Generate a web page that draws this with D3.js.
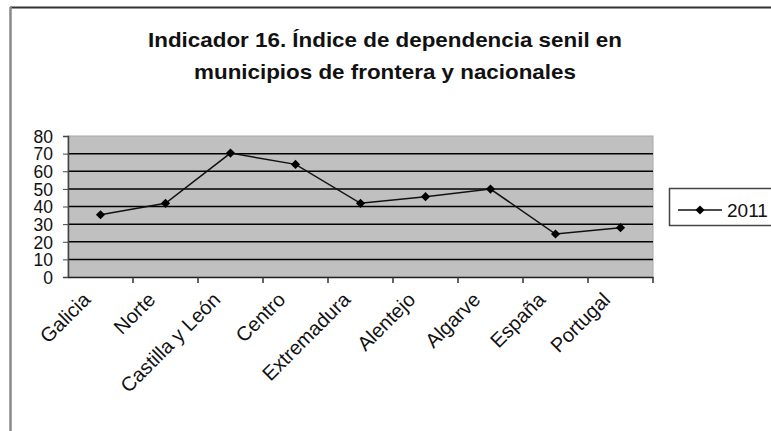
<!DOCTYPE html>
<html><head><meta charset="utf-8">
<script src="https://cdn.jsdelivr.net/npm/d3@7"></script>
<style>
html,body{margin:0;padding:0;background:#fff;}
svg{display:block;font-family:"Liberation Sans",Arial,sans-serif;}
</style></head>
<body><svg id="c" width="771" height="431"></svg>
<script>
const categories = ["Galicia","Norte","Castilla y León","Centro","Extremadura","Alentejo","Algarve","España","Portugal"];
const values2011 = [35.3, 41.8, 70.3, 63.9, 41.8, 45.6, 49.9, 24.4, 28.0];
const yTicks = [0,10,20,30,40,50,60,70,80];
const seriesName = "2011";
const titleLines = ["Indicador 16. Índice de dependencia senil en","municipios de frontera y nacionales"];

const svg = d3.select("#c");
const m = {left:68, right:653, top:136, bottom:277};

// outer frame
svg.append("line").attr("x1",10).attr("x2",771).attr("y1",7.5).attr("y2",7.5).attr("stroke","#333").attr("stroke-width",2);
svg.append("line").attr("x1",10.5).attr("x2",10.5).attr("y1",7).attr("y2",431).attr("stroke","#888").attr("stroke-width",2.5);

// title
svg.append("g").attr("transform","translate(385,0) scale(1.12,1)")
  .selectAll("text").data(titleLines).join("text")
  .attr("x",0).attr("y",(d,i)=>47+i*32).attr("text-anchor","middle")
  .attr("font-weight","bold").attr("font-size",20).attr("fill","#111").text(d=>d);

const x = d3.scaleBand().domain(categories).range([m.left,m.right]);
const y = d3.scaleLinear().domain([0,80]).range([m.bottom,m.top]);

// plot background
svg.append("rect").attr("x",m.left).attr("y",m.top).attr("width",m.right-m.left).attr("height",m.bottom-m.top)
  .attr("fill","#c0c0c0").attr("stroke","#a8a8a8").attr("stroke-width",1);

// gridlines
svg.append("g").selectAll("line").data(yTicks.filter(t=>t>0&&t<80)).join("line")
  .attr("x1",m.left).attr("x2",m.right).attr("y1",d=>y(d)).attr("y2",d=>y(d))
  .attr("stroke","#000").attr("stroke-width",1.5);

// y axis
const yAxis = svg.append("g").attr("transform",`translate(${m.left},0)`)
  .call(d3.axisLeft(y).tickValues(yTicks).tickSize(5).tickPadding(10));
yAxis.select(".domain").attr("stroke","#444").attr("stroke-width",1.5);
yAxis.selectAll(".tick line").attr("stroke","#444");
yAxis.selectAll("text").attr("font-size",17.5).attr("fill","#111")
  .attr("font-family","Liberation Sans, Arial, sans-serif").attr("dy","0.36em");

// x axis
const xAxis = svg.append("g").attr("transform",`translate(0,${m.bottom})`)
  .call(d3.axisBottom(x).tickSize(0).tickFormat(""));
xAxis.select(".domain").attr("stroke","#222").attr("stroke-width",1.5);
const tickPos = categories.map(c=>x(c)).concat([m.right]);
svg.append("g").selectAll("line").data(tickPos.slice(1)).join("line")
  .attr("x1",d=>d).attr("x2",d=>d).attr("y1",m.bottom).attr("y2",m.bottom+6)
  .attr("stroke","#333").attr("stroke-width",1.5);
svg.append("g").selectAll("text").data(categories).join("text")
  .attr("transform",d=>`translate(${x(d)+x.bandwidth()/2-9},${m.bottom+24}) rotate(-45)`)
  .attr("text-anchor","end").attr("font-size",20).attr("fill","#111").text(d=>d);

// line + markers
const cx = d=>x(d)+x.bandwidth()/2;
svg.append("path").datum(categories)
  .attr("d",d3.line().x(cx).y((d,i)=>y(values2011[i])))
  .attr("fill","none").attr("stroke","#111").attr("stroke-width",1.5);
const diamond = d3.symbol().type(d3.symbolSquare).size(42);
svg.append("g").selectAll("path").data(categories).join("path")
  .attr("d",diamond).attr("transform",(d,i)=>`translate(${cx(d)},${y(values2011[i])}) rotate(45)`).attr("fill","#000");

// legend
const lg = svg.append("g");
lg.append("rect").attr("x",669.5).attr("y",188.5).attr("width",120).attr("height",37)
  .attr("fill","#fff").attr("stroke","#444").attr("stroke-width",1.5);
lg.append("line").attr("x1",678).attr("x2",722).attr("y1",210).attr("y2",210).attr("stroke","#111").attr("stroke-width",1.5);
lg.append("path").attr("d",diamond).attr("transform","translate(700,210) rotate(45)").attr("fill","#000");
lg.append("text").attr("x",727).attr("y",217).attr("font-size",19).attr("fill","#111").text(seriesName);
</script></body></html>
